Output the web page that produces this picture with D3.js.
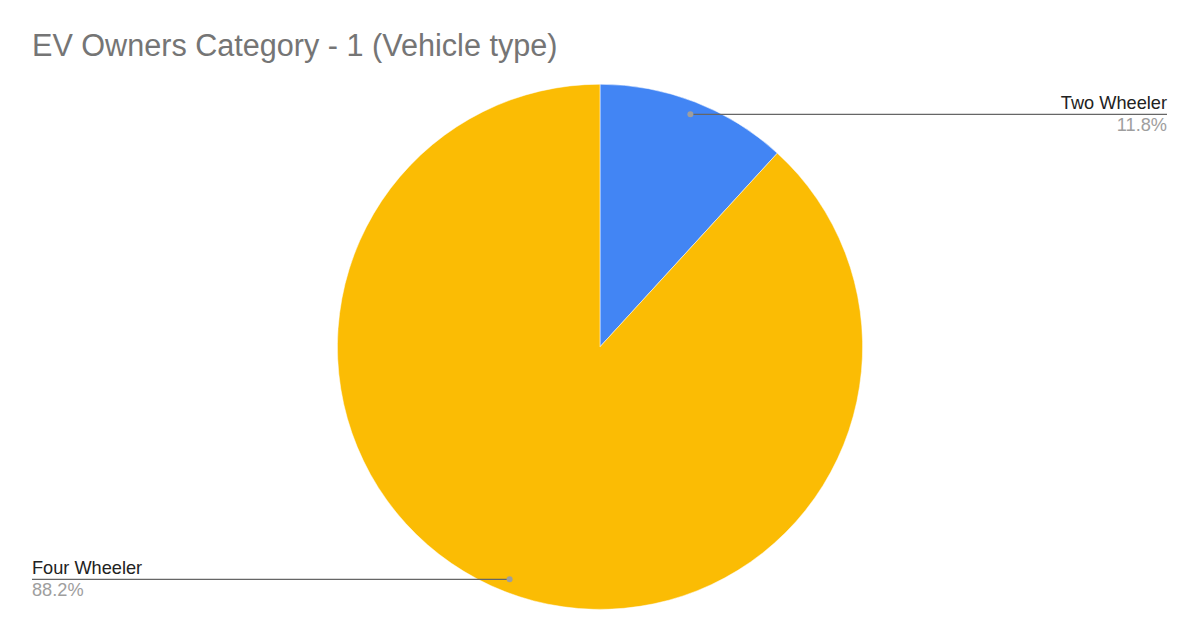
<!DOCTYPE html>
<html>
<head>
<meta charset="utf-8">
<script src="https://cdn.jsdelivr.net/npm/d3@7/dist/d3.min.js"></script>
<style>
  html, body { margin: 0; padding: 0; background: #ffffff; }
  svg { display: block; font-family: "Liberation Sans", Arial, sans-serif; }
</style>
</head>
<body>
<svg id="chart" width="1200" height="642"></svg>
<script>
const categories = ["Two Wheeler", "Four Wheeler"];
const values = [11.8, 88.2];
const colors = ["#4285F4", "#FBBC04"];
const titleText = "EV Owners Category - 1 (Vehicle type)";

const W = 1200, H = 642;
const cx = 600, cy = 346.8, R = 262.6;
const svg = d3.select("#chart");

svg.append("rect").attr("width", W).attr("height", H).attr("fill", "#ffffff");

svg.append("text")
  .attr("x", 32).attr("y", 56)
  .attr("font-size", 30.6)
  .attr("fill", "#757575")
  .text(titleText);

const data = categories.map((c, i) => ({ name: c, value: values[i], color: colors[i] }));
const pie = d3.pie().value(d => d.value).sort(null);
const arcs = pie(data);
const arc = d3.arc().innerRadius(0).outerRadius(R);
const labelArc = d3.arc().innerRadius(R * 0.95).outerRadius(R * 0.95);

const g = svg.append("g").attr("transform", `translate(${cx},${cy})`);
g.selectAll("path.slice").data(arcs).enter().append("path")
  .attr("class", "slice")
  .attr("d", arc)
  .attr("fill", d => d.data.color)
  .attr("stroke", "#ffffff")
  .attr("stroke-width", 0.5);

const total = d3.sum(values);
const fmt = v => (v / total * 100).toFixed(1) + "%";

arcs.forEach(a => {
  const [px, py] = labelArc.centroid(a);
  const x = cx + px, y = cy + py;
  const right = px > 0;
  const endX = right ? 1167 : 32;
  svg.append("line")
    .attr("x1", x).attr("y1", y).attr("x2", endX).attr("y2", y)
    .attr("stroke", "#666666").attr("stroke-width", 1.3);
  svg.append("circle")
    .attr("cx", x).attr("cy", y).attr("r", 3)
    .attr("fill", "#9e9e9e");
  svg.append("text")
    .attr("x", endX).attr("y", y - 5.5)
    .attr("text-anchor", right ? "end" : "start")
    .attr("font-size", 18.2)
    .attr("fill", "#222222")
    .text(a.data.name);
  svg.append("text")
    .attr("x", endX).attr("y", y + 17)
    .attr("text-anchor", right ? "end" : "start")
    .attr("font-size", 18.2)
    .attr("fill", "#9e9e9e")
    .text(fmt(a.data.value));
});
</script>
</body>
</html>
